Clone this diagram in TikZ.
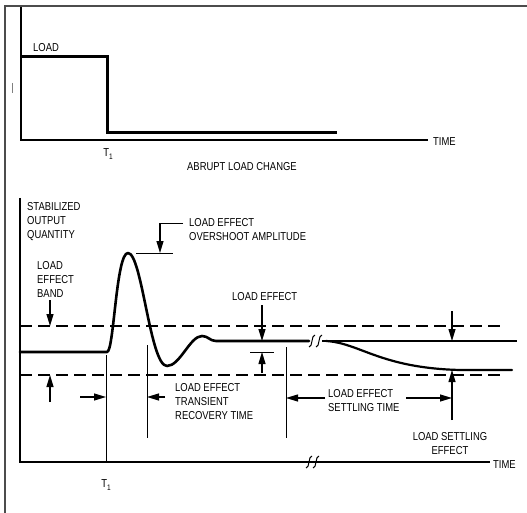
\documentclass[tikz,border=0pt]{standalone}
\usepackage{fontspec}
\setmainfont{Liberation Sans}[FakeStretch=0.82]
\usetikzlibrary{arrows.meta}
\begin{document}
\begin{tikzpicture}[x=1pt,y=-1pt,
  lbl/.style={font=\fontsize{11.5}{14}\selectfont, inner sep=0pt, align=left, anchor=north west},
  axis/.style={line width=1.2pt},
  heavy/.style={line width=2.6pt, line join=round, line cap=round},
  dashline/.style={line width=1.4pt, dash pattern=on 12pt off 6pt},
  thin/.style={line width=1pt},
  arr/.style={line width=1.1pt, -{Triangle[length=12pt,width=7pt]}},
  brk/.style={line width=1pt},
]
\useasboundingbox (0,0) rectangle (527,513);
% frame
\draw[line width=2pt, black!70] (527,6) -- (5,6) -- (5,513);
\draw[line width=0.6pt, black!50] (12,83) -- (12,93);

% ---------- top graph ----------
\coordinate (tyt) at (21,7);
\coordinate (to) at (21,140);
\coordinate (txe) at (428,140);
\draw[axis] (tyt) -- (to) -- (txe);
\node[lbl, anchor=west] (ttime) at (433,142) {TIME};
\draw[line width=3pt] (21,57) -- (107,57) -- (107,133) -- (337,133);
\node[lbl] (tload) at (33,43) {LOAD};
\node[lbl, anchor=north] (tt1) at (108,148) {T\raisebox{-3pt}{\fontsize{8}{8}\selectfont 1}};
\node[lbl] (abrupt) at (187,162) {ABRUPT LOAD CHANGE};

% ---------- bottom graph ----------
\coordinate (byt) at (20,198);
\coordinate (bo) at (20,462);
\coordinate (bxe) at (490,462);
\draw[axis] (byt) -- (bo) -- (bxe);
\foreach \x in {309,316}
  \draw[brk] (\x-3,468) .. controls (\x+1,468) and (\x-1,456) .. (\x+3,456);
\node[lbl, anchor=west] (btime) at (493,465) {TIME};
\node[lbl, anchor=north] (bt1) at (106,479) {T\raisebox{-3pt}{\fontsize{8}{8}\selectfont 1}};

% dashed band
\draw[dashline] (20,326) -- (505,326);
\draw[dashline] (20,375) -- (505,375);

% main response curve
\draw[heavy] (20,352) -- (107,352)
  .. controls (114,352) and (116,253) .. (128,253)
  .. controls (142,253) and (150,366) .. (167,366)
  .. controls (180,366) and (190,336) .. (202,336)
  .. controls (208,336) and (210,341) .. (216,341) -- (309,341);
\foreach \x in {312,319}
  \draw[brk] (\x-3,347) .. controls (\x+1,347) and (\x-1,335) .. (\x+3,335);
\draw[line width=2pt] (322,341) -- (517,341);
\draw[line width=2.2pt, line cap=round] (326,341) .. controls (360,343) and (380,368) .. (460,370) -- (512,370);

% texts
\node[lbl] (stab) at (27,202) {STABILIZED\\OUTPUT\\QUANTITY};
\node[lbl] (over) at (189,218) {LOAD EFFECT\\OVERSHOOT AMPLITUDE};
\node[lbl] (band) at (37,261) {LOAD\\EFFECT\\BAND};
\node[lbl] (leff) at (232,292) {LOAD EFFECT};
\node[lbl] (trans) at (175,383) {LOAD EFFECT\\TRANSIENT\\RECOVERY TIME};
\node[lbl] (settle) at (328,389) {LOAD EFFECT\\SETTLING TIME};
\node[lbl, anchor=north, align=center] (lse) at (450,432) {LOAD SETTLING\\EFFECT};

% overshoot amplitude marker
\draw[thin] (136,253) -- (173,253);
\coordinate (ovA) at (160,223);
\coordinate (ovB) at (160,253);
\draw[thin] (183,223) -- (ovA);
\draw[arr] (ovA) -- (ovB);

% load effect band arrows
\draw[arr] (50,300) -- (50,326);
\draw[arr] (50,402) -- (50,375);

% load effect arrows
\draw[arr] (262,305) -- (262,341);
\draw[thin] (250,352) -- (274,352);
\draw[arr] (262,373) -- (262,352);

% transient recovery time
\draw[thin] (106,355) -- (106,462);
\draw[thin] (147,345) -- (147,438);
\draw[arr] (80,397) -- (106,397);
\draw[arr] (165,397) -- (147,397);

% settling time
\draw[thin] (286,347) -- (286,438);
\draw[arr] (325,398) -- (286,398);
\draw[arr] (406,398) -- (452,398);
\draw[arr] (452,420) -- (452,370);
\draw[arr] (452,311) -- (452,341);
\end{tikzpicture}
\end{document}
